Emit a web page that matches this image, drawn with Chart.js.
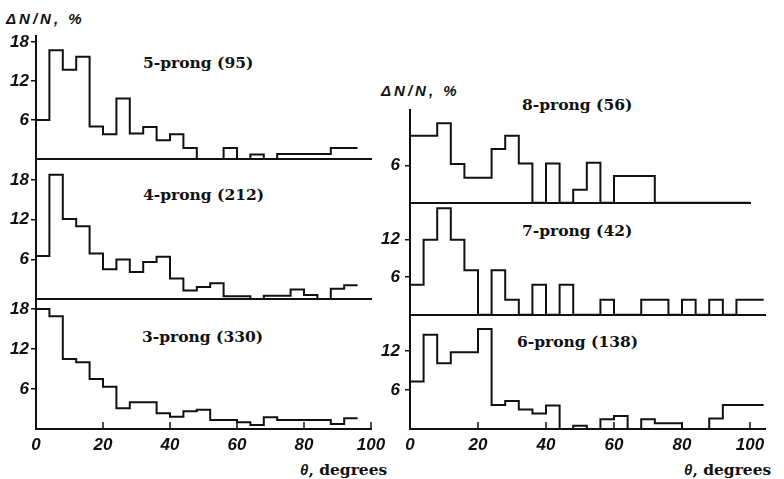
<!DOCTYPE html>
<html>
<head>
<meta charset="utf-8">
<script src="https://cdn.jsdelivr.net/npm/chart.js@4.4.0/dist/chart.umd.min.js"></script>
<style>
  body { margin: 0; background: #fff; }
  #fig { position: relative; width: 784px; height: 479px; overflow: hidden; background: #fff; }
  #fig canvas { position: absolute; }
  .lbl { position: absolute; white-space: nowrap; color: #111; line-height: 1; }
  .title { font: bold 15.5px "DejaVu Serif", serif; }
  .ylab { font: italic bold 15px "Liberation Sans", sans-serif; letter-spacing: 3px; }
  .xlab { font: bold 15.5px "DejaVu Serif", serif; }
  .xlab i { font: italic bold 15px "Liberation Sans", sans-serif; }
</style>
</head>
<body>
<div id="fig">
  <div class="lbl ylab" style="left:6px; top:10px;">ΔN/N, %</div>
  <div class="lbl ylab" style="left:381px; top:82px;">ΔN/N, %</div>
  <div class="lbl title" style="left:143px; top:53px;">5-prong (95)</div>
  <div class="lbl title" style="left:143px; top:185px;">4-prong (212)</div>
  <div class="lbl title" style="left:142px; top:327px;">3-prong (330)</div>
  <div class="lbl title" style="left:522px; top:95px;">8-prong (56)</div>
  <div class="lbl title" style="left:522px; top:221px;">7-prong (42)</div>
  <div class="lbl title" style="left:517px; top:332px;">6-prong (138)</div>
  <div class="lbl xlab" style="left:300px; top:460px;"><i>θ</i>, degrees</div>
  <div class="lbl xlab" style="left:684px; top:460px;"><i>θ</i>, degrees</div>
</div>
<script>
// bin edges, degrees
const leftEdges = [0, 4, 8, 12, 16, 20, 24, 28, 32, 36, 40, 44, 48, 52, 56, 60, 64, 68, 72, 76, 80, 84, 88, 92, 96];
const rightEdges = [0, 4, 8, 12, 16, 20, 24, 28, 32, 36, 40, 44, 48, 52, 56, 60, 64, 68, 72, 76, 80, 84, 88, 92, 96, 100, 104];

// ΔN/N, % per 4-degree bin
const prong5 = [6, 16.7, 13.7, 15.7, 5, 3.8, 9.3, 3.9, 4.9, 2.9, 3.8, 1.7, 0, 0, 1.7, 0, 0.7, 0, 0.75, 0.75, 0.75, 0.75, 1.7, 1.7];
const prong4 = [6.5, 18.8, 12.1, 11.0, 6.9, 4.5, 6.0, 4.1, 5.6, 6.4, 3.1, 1.3, 1.8, 2.4, 0.4, 0.4, 0, 0.5, 0.5, 1.45, 0.6, 0, 1.55, 2.1];
const prong3 = [18.0, 16.9, 10.5, 10.0, 7.5, 6.35, 3.1, 4.0, 4.0, 2.35, 1.85, 2.65, 2.9, 1.35, 1.35, 1.0, 0.6, 1.75, 1.35, 1.35, 1.35, 1.35, 0.75, 1.6];
const prong8 = [10.7, 10.7, 12.7, 6.2, 4.0, 4.0, 8.6, 10.7, 6.3, 0, 6.3, 0, 2.1, 6.4, 0, 4.3, 4.3, 4.3, 0, 0, 0, 0, 0, 0, 0, 0];
const prong7 = [4.8, 12, 17, 12, 7.1, 0, 7.1, 2.4, 0, 4.8, 0, 4.8, 0, 0, 2.4, 0, 0, 2.4, 2.4, 0, 2.4, 0, 2.4, 0, 2.4, 2.4];
const prong6 = [7.3, 14.5, 10.1, 11.8, 11.8, 15.4, 3.7, 4.3, 3.0, 2.4, 3.6, 0, 0.5, 0, 1.5, 2.0, 0, 1.5, 0.9, 0.9, 0, 0, 1.6, 3.7, 3.7, 3.7];

const xTickValues = [0, 20, 40, 60, 80, 100];
const yTicks5 = [6, 12, 18];
const yTicks4 = [6, 12, 18];
const yTicks3 = [6, 12, 18];
const yTicks8 = [6];
const yTicks7 = [6, 12];
const yTicks6 = [6, 12];

const tickFont = { family: '"Liberation Sans Narrow", "Liberation Sans", sans-serif', style: 'italic', weight: 'bold', size: 17 };

function histPoints(edges, values) {
    const pts = values.map((v, i) => ({ x: edges[i], y: v }));
    pts.push({ x: edges[values.length], y: values[values.length - 1] });
    return pts;
}

// small tick marks pointing up from the x axis
const innerTicks = {
    id: 'innerTicks',
    afterDraw(chart) {
        const xs = chart.scales.x, ctx = chart.ctx, b = chart.chartArea.bottom;
        ctx.save();
        ctx.strokeStyle = '#111';
        ctx.lineWidth = 1.5;
        xTickValues.forEach(v => {
            if (v === 0) return;
            const px = Math.round(xs.getPixelForValue(v));
            ctx.beginPath();
            ctx.moveTo(px, b);
            ctx.lineTo(px, b - 7);
            ctx.stroke();
        });
        ctx.restore();
    }
};

// panel boxes: canvas [left, top, width, height], y axis width, x axis height
const panels = [
    { values: prong5, edges: leftEdges, yTicks: yTicks5, box: [0, 22, 392, 151], top: 14, right: 21, yw: 36, xh: 14, xmax: 100, ymax: 18.9, bottom: false, ypad: 2 },
    { values: prong4, edges: leftEdges, yTicks: yTicks4, box: [0, 145, 392, 168], top: 14, right: 21, yw: 36, xh: 14, xmax: 100, ymax: 21.2, bottom: false, ypad: 2 },
    { values: prong3, edges: leftEdges, yTicks: yTicks3, box: [0, 285, 392, 194], top: 14, right: 21, yw: 36, xh: 50, xmax: 100, ymax: 19.5, bottom: true, ypad: 2 },
    { values: prong8, edges: rightEdges, yTicks: yTicks8, box: [376, 95, 408, 123], top: 14, right: 34, yw: 34, xh: 14, xmax: 100, ymax: 14.8, bottom: false, ypad: 5 },
    { values: prong7, edges: rightEdges, yTicks: yTicks7, box: [376, 190, 408, 140], top: 14, right: 19, yw: 34, xh: 14, xmax: 104.4, ymax: 17.5, bottom: false, ypad: 5 },
    { values: prong6, edges: rightEdges, yTicks: yTicks6, box: [376, 302, 408, 177], top: 14, right: 19, yw: 34, xh: 50, xmax: 104.4, ymax: 17.2, bottom: true, ypad: 5 }
];

const fig = document.getElementById('fig');

panels.forEach(p => {
    const cv = document.createElement('canvas');
    cv.width = p.box[2];
    cv.height = p.box[3];
    cv.style.left = p.box[0] + 'px';
    cv.style.top = p.box[1] + 'px';
    fig.appendChild(cv);

    new Chart(cv, {
        type: 'line',
        data: {
            datasets: [{
                data: histPoints(p.edges, p.values),
                stepped: true,
                borderColor: '#111',
                borderWidth: 2,
                pointRadius: 0,
                fill: false
            }]
        },
        options: {
            responsive: false,
            animation: false,
            events: [],
            layout: { padding: { top: p.top, right: p.right, left: 0, bottom: 0 } },
            plugins: { legend: { display: false }, tooltip: { enabled: false } },
            scales: {
                x: {
                    type: 'linear',
                    bounds: 'data',
                    min: 0,
                    max: p.xmax,
                    afterBuildTicks: s => { s.ticks = xTickValues.map(v => ({ value: v })); },
                    afterFit: s => { s.height = p.xh; },
                    grid: { drawOnChartArea: false, drawTicks: false },
                    border: { color: '#111', width: 2 },
                    ticks: { display: p.bottom, font: tickFont, color: '#111', padding: 6, maxRotation: 0, autoSkip: false }
                },
                y: {
                    type: 'linear',
                    bounds: 'data',
                    min: 0,
                    max: p.ymax,
                    afterBuildTicks: s => { s.ticks = p.yTicks.map(v => ({ value: v })); },
                    afterFit: s => { s.width = p.yw; },
                    grid: { drawOnChartArea: false, tickLength: 5, color: '#111', lineWidth: 1.5 },
                    border: { color: '#111', width: 2 },
                    ticks: { font: tickFont, color: '#111', padding: p.ypad, autoSkip: false }
                }
            }
        },
        plugins: p.bottom ? [innerTicks] : []
    });
});
</script>
</body>
</html>
